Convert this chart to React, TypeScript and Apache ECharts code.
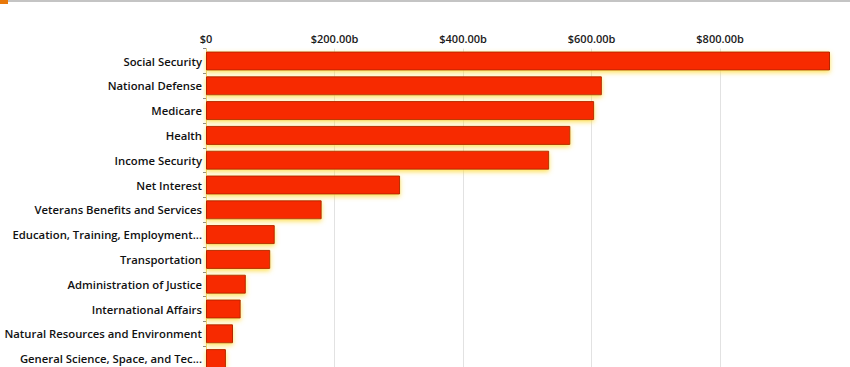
import React, { useEffect, useRef } from "react";
import * as echarts from "echarts";

const categories = [
  "Social Security",
  "National Defense",
  "Medicare",
  "Health",
  "Income Security",
  "Net Interest",
  "Veterans Benefits and Services",
  "Education, Training, Employment...",
  "Transportation",
  "Administration of Justice",
  "International Affairs",
  "Natural Resources and Environment",
  "General Science, Space, and Tec...",
];

// billions of dollars
const values = [971, 616, 604, 567, 534, 302, 180, 107, 100, 62, 54, 42, 31];

const tickStep = 200;
const gridTicks = [200, 400, 600, 800];

export default function App() {
  const ref = useRef<HTMLDivElement>(null);
  useEffect(() => {
    if (!ref.current) return;
    const chart = echarts.init(ref.current, null, { renderer: "svg" });
    chart.setOption({
      animation: false,
      backgroundColor: "#ffffff",
      textStyle: { fontFamily: "Open Sans" },
      graphic: [
        { type: "rect", shape: { x: 0, y: 0, width: 850, height: 2 }, style: { fill: "#c4c4c4" } },
        { type: "rect", shape: { x: 0, y: 0, width: 8, height: 4 }, style: { fill: "#e8780a" } },
      ],
      grid: { left: 206, right: 20, top: 48.6, bottom: 9, containLabel: false },
      xAxis: {
        type: "value",
        position: "top",
        min: 0,
        max: "dataMax",
        interval: tickStep,
        axisLine: { show: false },
        axisTick: { show: false },
        axisLabel: {
          color: "#1a1a1a",
          fontSize: 11,
          fontFamily: "Open Sans",
          fontWeight: 600,
          margin: 5,
          showMaxLabel: false,
          formatter: (v: number) => (v === 0 ? "$0" : "$" + v.toFixed(2) + "b"),
        },
        splitLine: { show: false },
      },
      yAxis: {
        type: "category",
        inverse: true,
        data: categories,
        axisLine: { show: true, lineStyle: { color: "#e8d070", width: 1 } },
        axisTick: { show: true, length: 3, lineStyle: { color: "#888" } },
        axisLabel: {
          color: "#111111",
          fontSize: 11.3,
          fontWeight: 600,
          fontFamily: "Open Sans",
          margin: 4,
        },
      },
      series: [
        {
          type: "bar",
          data: [],
          z: 0,
          silent: true,
          markLine: {
            z: 0,
            silent: true,
            symbol: "none",
            label: { show: false },
            lineStyle: { color: "#e2e2e2", width: 1, type: "solid" },
            data: gridTicks.map((t) => ({ xAxis: t })),
          },
        },
        {
          type: "bar",
          data: values,
          barWidth: 19,
          barGap: "-100%",
          z: 3,
          itemStyle: {
            color: "#f72a00",
            borderColor: "#b32600",
            borderWidth: 1,
            shadowColor: "rgba(255, 220, 60, 0.9)",
            shadowBlur: 5,
            shadowOffsetY: 2,
          },
        },
      ],
    });
    return () => chart.dispose();
  }, []);
  return (
    <div
      ref={ref}
      style={{ position: "absolute", left: 0, top: 0, width: 850, height: 380 }}
    />
  );
}
